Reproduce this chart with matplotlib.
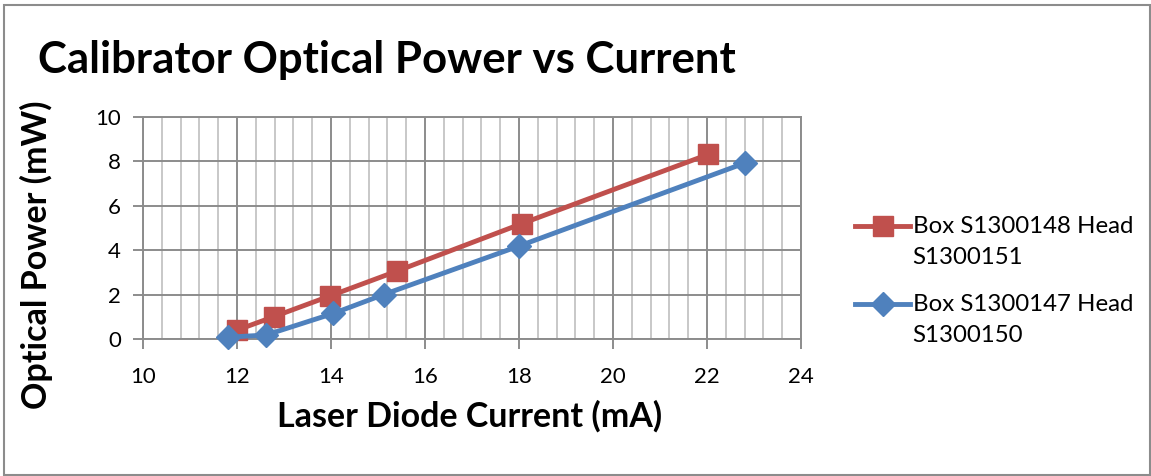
import matplotlib
matplotlib.use("Agg")
import matplotlib.pyplot as plt
from matplotlib.patches import Rectangle
from matplotlib.ticker import MultipleLocator
from matplotlib.legend_handler import HandlerLine2D

plt.rcParams['font.family'] = ['Lato', 'DejaVu Sans']

title = "Calibrator Optical Power vs Current"
xlabel = "Laser Diode Current (mA)"
ylabel = "Optical Power (mW)"

red_label = "Box S1300148 Head\nS1300151"
red_x = [12.0, 12.78, 13.97, 15.41, 18.06, 22.02]
red_y = [0.4, 1.0, 1.93, 3.06, 5.19, 8.3]

blue_label = "Box S1300147 Head\nS1300150"
blue_x = [11.8, 12.62, 14.05, 15.12, 18.0, 22.81]
blue_y = [0.08, 0.18, 1.15, 2.0, 4.18, 7.92]

W, H = 1151, 476
fig = plt.figure(figsize=(W / 100, H / 100), dpi=100)
ax = fig.add_axes([143 / W, 1 - 339 / H, (801 - 143) / W, (339 - 116.7) / H])

red_c = '#C0504D'
blue_c = '#4F81BD'

ax.plot(red_x, red_y, color=red_c, lw=3.5, marker='s', ms=14.5, label=red_label, zorder=3,
        clip_on=False)
ax.plot(blue_x, blue_y, color=blue_c, lw=3.5, marker='D', ms=12, label=blue_label, zorder=3,
        clip_on=False)

ax.set_xlim(10, 24)
ax.set_ylim(0, 10)
ax.xaxis.set_major_locator(MultipleLocator(2))
ax.xaxis.set_minor_locator(MultipleLocator(0.4))
ax.yaxis.set_major_locator(MultipleLocator(2))
ax.grid(which='major', color='#8C8C8C', lw=1.4)
ax.grid(which='minor', axis='x', color='#C4C4C4', lw=1.3)
ax.set_axisbelow(True)
for s in ax.spines.values():
    s.set_color('#8C8C8C')
    s.set_linewidth(1.4)
ax.tick_params(which='major', length=7, color='#8C8C8C', width=1.4, labelsize=16)
ax.tick_params(axis='x', pad=13)
ax.tick_params(axis='y', pad=9)
ax.tick_params(which='minor', length=0)

fig.text(470 / W, 1 - 416 / H, xlabel, fontsize=24.5, fontweight='bold', ha='center', va='center')
fig.text(36 / W, 1 - 255 / H, ylabel, fontsize=24.5, fontweight='bold', ha='center', va='center',
         rotation=90)
fig.text(38 / W, 1 - 60 / H, title, fontsize=31.5, fontweight='bold', ha='left', va='center')

LEG_FS = 17.3
LINESP = 1.58
HANDLE_RAISE = 11.5  # points: lift handle to the first text line


class FirstLineHandler(HandlerLine2D):
    def adjust_drawing_area(self, legend, orig_handle, xdescent, ydescent, width, height, fontsize):
        xd, yd, w, h = super().adjust_drawing_area(legend, orig_handle, xdescent, ydescent,
                                                   width, height, fontsize)
        return xd, yd - 2 * HANDLE_RAISE, w, h


leg = ax.legend(loc='upper left', bbox_to_anchor=(855 / W, 1 - 216 / H),
                bbox_transform=fig.transFigure, frameon=False, borderpad=0, borderaxespad=0,
                fontsize=LEG_FS, handlelength=2.3, handletextpad=0.1, labelspacing=1.1,
                handler_map={plt.Line2D: FirstLineHandler()})
for t in leg.get_texts():
    t.set_linespacing(LINESP)

fig.patches.append(Rectangle((4 / W, 1 / H), (1149.5 - 4) / W, (475 - 5) / H,
                             transform=fig.transFigure, fill=False,
                             edgecolor='#8C8C8C', lw=1.5))

fig.savefig("out.png", dpi=100)
